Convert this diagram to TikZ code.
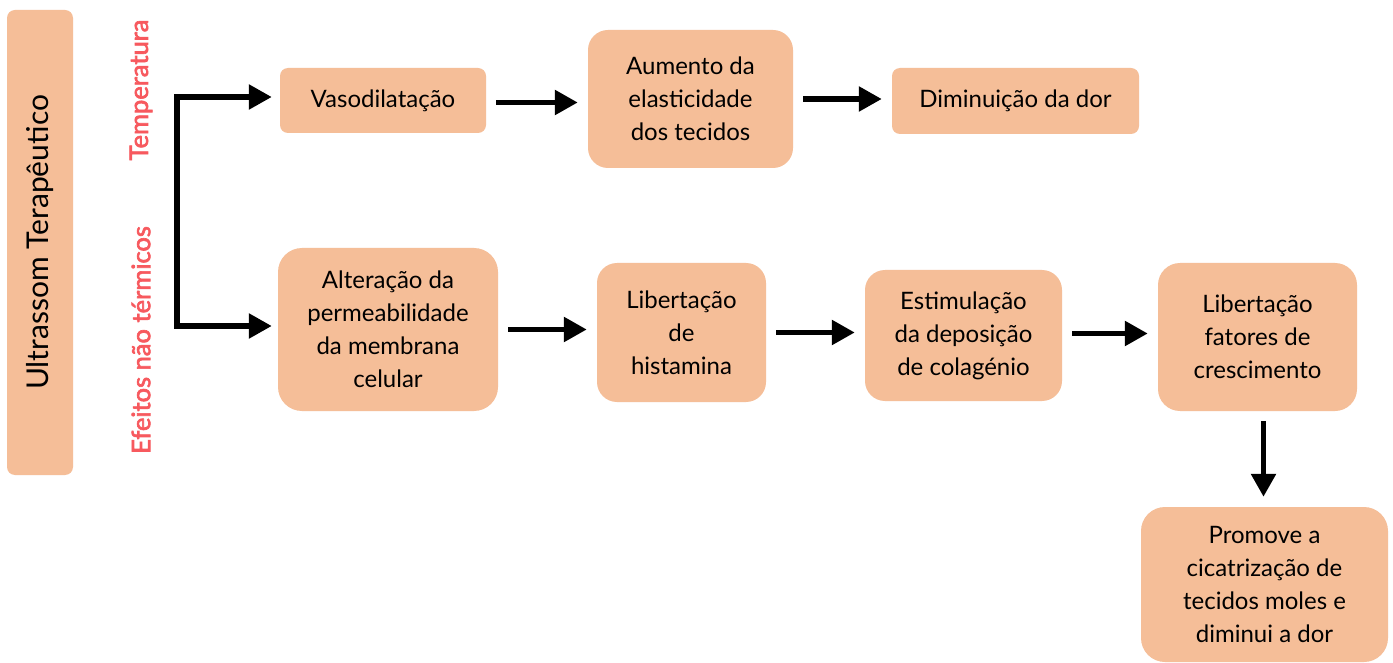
\documentclass[tikz,border=0pt]{standalone}
\usepackage{fontspec}
\setmainfont{Lato}
\newfontfamily\labfont{Lato}[FakeBold=2.5]
\usetikzlibrary{arrows.meta}
\definecolor{boxfill}{HTML}{F5BE98}
\definecolor{redlab}{HTML}{F7595E}
\tikzset{
  box/.style={fill=boxfill, draw=none, inner sep=0pt, align=center, font=\fontsize{24}{33}\selectfont},
  arr/.style={line width=5.5pt, -{Triangle[length=23pt, width=24pt]}, shorten <=10pt, shorten >=10pt},
  redlabel/.style={text=redlab, font=\labfont\fontsize{25.5}{28}\selectfont, rotate=90},
}
\begin{document}
\begin{tikzpicture}[x=1pt,y=-1pt]
\useasboundingbox (0,0) rectangle (1393,663);
\fill[white] (0,0) rectangle (1393,663);
% left title
\node[box, minimum width=465pt, minimum height=66pt, rounded corners=8pt, rotate=90, font=\fontsize{30}{34}\selectfont] (title) at (40,242.5) {Ultrassom Terapêutico};
\node[redlabel] (temp) at (141,90) {Temperatura};
\node[redlabel] (efe) at (141,340) {Efeitos não térmicos};
% top row
\node[box, minimum width=206pt, minimum height=65pt, rounded corners=8pt] (vaso) at (383,100.5) {Vasodilatação};
\node[box, minimum width=205pt, minimum height=138pt, rounded corners=20pt] (aum) at (690.5,99) {Aumento da\\elasticidade\\dos tecidos};
\node[box, minimum width=247pt, minimum height=66pt, rounded corners=8pt] (dim) at (1015.5,101) {Diminuição da dor};
% bottom row
\node[box, minimum width=220pt, minimum height=163pt, rounded corners=24pt] (alt) at (388,329.5) {Alteração da\\permeabilidade\\da membrana\\celular};
\node[box, minimum width=169pt, minimum height=139pt, rounded corners=20pt] (his) at (681.5,332.5) {Libertação\\de\\histamina};
\node[box, minimum width=197pt, minimum height=131pt, rounded corners=20pt] (est) at (963.5,335.5) {Estimulação\\da deposição\\de colagénio};
\node[box, minimum width=199pt, minimum height=148pt, rounded corners=22pt] (fat) at (1257.5,337) {Libertação\\fatores de\\crescimento};
\node[box, minimum width=247pt, minimum height=155pt, rounded corners=24pt] (pro) at (1264.5,584.5) {Promove a\\cicatrização de\\tecidos moles e\\diminui a dor};
% bracket
\coordinate (bt) at (177,97);
\coordinate (bb) at (177,326);
\draw[line width=5.5pt, {Triangle[length=23pt, width=24pt]}-{Triangle[length=23pt, width=24pt]}, miter limit=10, shorten <=8pt, shorten >=6pt]
  (bt -| vaso.west) -- (bt) -- (bb) -- (bb -| alt.west);
% arrows
\draw[arr] ([yshift=-2pt]vaso.east) -- ([yshift=-2pt]vaso.east -| aum.west);
\draw[arr] (aum.east) -- (aum.east -| dim.west);
\draw[arr] (alt.east) -- (alt.east -| his.west);
\draw[arr] (his.east) -- (his.east -| est.west);
\draw[arr] ([yshift=2pt]est.east) -- ([yshift=2pt]est.east -| fat.west);
\draw[arr] ([xshift=6pt]fat.south) -- ([xshift=6pt]fat.south |- pro.north);
\end{tikzpicture}
\end{document}
